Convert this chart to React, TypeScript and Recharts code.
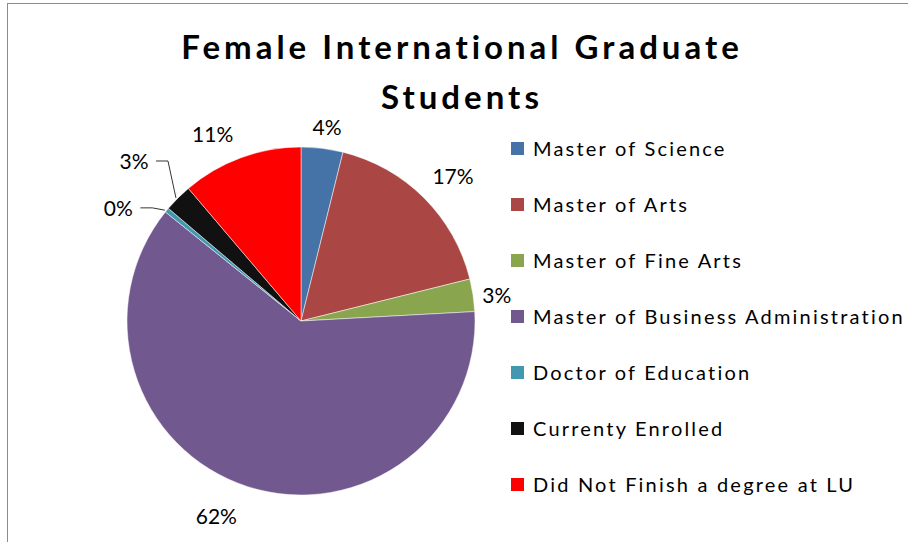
import { PieChart, Pie, Cell } from 'recharts';

// ─── Data ─────────────────────────────────────────────────────────────────────

const categories = [
  'Master of Science',
  'Master of Arts',
  'Master of Fine Arts',
  'Master of Business Administration',
  'Doctor of Education',
  'Currenty Enrolled',
  'Did Not Finish a degree at LU',
];

const students = [9, 40, 7, 143, 1, 6, 26];

const colors = ['#4572A7', '#AA4643', '#89A54E', '#71588F', '#4198AF', '#111111', '#FF0000'];

const data = categories.map((name, i) => ({ name, value: students[i], color: colors[i] }));

// ─── Layout ───────────────────────────────────────────────────────────────────

const W = 908;
const H = 542;
const CX = 301;
const CY = 321;
const R = 174;
const FONT = 'Lato, "Open Sans", sans-serif';
const RAD = Math.PI / 180;

// Excel-ish best-fit nudges for the outside labels
const nudge: [number, number][] = [[2, 2], [12, -5], [0, 3], [-24, 6], [-30, 13], [-27, -20], [-20, -2]];

function SliceLabel({ cx, cy, midAngle, percent, index }: any) {
  const r = R + 24;
  const x = cx + r * Math.cos(-midAngle * RAD) + nudge[index][0];
  const y = cy + r * Math.sin(-midAngle * RAD) + nudge[index][1];
  const ex = cx + R * Math.cos(-midAngle * RAD);
  const ey = cy + R * Math.sin(-midAngle * RAD);
  const leader = percent < 0.03;
  return (
    <g>
      {leader && (
        <polyline
          points={`${x + 22},${y} ${x + 34},${y} ${ex - 2},${ey}`}
          fill="none"
          stroke="#000"
          strokeWidth={0.8}
        />
      )}
      <text
        x={x}
        y={y}
        textAnchor="middle"
        dominantBaseline="central"
        fontFamily={FONT}
        fontSize={21}
        fill="#000"
      >
        {Math.round(percent * 100)}%
      </text>
    </g>
  );
}

function LegendList() {
  return (
    <div style={{ position: 'absolute', left: 511, top: 120, fontFamily: FONT }}>
      {data.map((d) => (
        <div key={d.name} style={{ display: 'flex', alignItems: 'center', height: 56 }}>
          <span style={{ width: 13, height: 13, background: d.color, marginRight: 9, flexShrink: 0 }} />
          <span style={{ fontSize: 20, letterSpacing: 2.2, color: '#000', whiteSpace: 'nowrap' }}>{d.name}</span>
        </div>
      ))}
    </div>
  );
}

export default function App() {
  return (
    <div style={{ position: 'absolute', left: 0, top: 0, width: W, height: H, background: '#fff', overflow: 'hidden' }}>
      <div
        style={{
          position: 'absolute', left: 7, top: 3, width: W + 20, height: H + 20,
          borderLeft: '1.5px solid #8c8c8c', borderTop: '1.5px solid #8c8c8c',
        }}
      />
      <div
        style={{
          position: 'absolute', left: 0, top: 21, width: 924, textAlign: 'center',
          fontFamily: FONT, fontWeight: 700, fontSize: 33, letterSpacing: 4, lineHeight: '50px', color: '#000',
        }}
      >
        Female International Graduate
        <br />
        Students
      </div>
      <PieChart
        width={W}
        height={H}
        margin={{ top: 0, right: 0, bottom: 0, left: 0 }}
        style={{ position: 'absolute', left: 0, top: 0 }}
      >
        <Pie
          data={data}
          dataKey="value"
          nameKey="name"
          cx={CX}
          cy={CY}
          outerRadius={R}
          startAngle={90}
          endAngle={-270}
          stroke="#ffffff"
          strokeWidth={0.5}
          label={SliceLabel}
          labelLine={false}
          isAnimationActive={false}
        >
          {data.map((d) => (
            <Cell key={d.name} fill={d.color} />
          ))}
        </Pie>
      </PieChart>
      <LegendList />
    </div>
  );
}
